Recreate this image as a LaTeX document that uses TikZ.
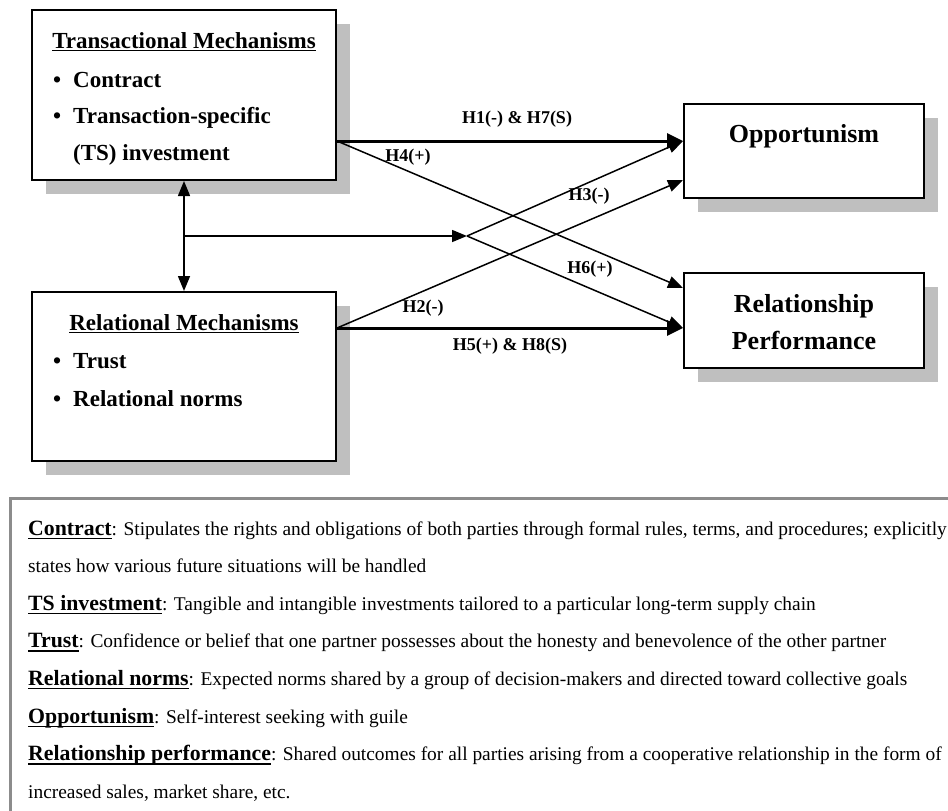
\documentclass[tikz,border=0pt]{standalone}
\usepackage{fontspec}
\setmainfont{Liberation Serif}
\usetikzlibrary{arrows.meta,shadows}

\newsavebox{\termbox}
\newcommand{\undl}[2][3pt]{\sbox{\termbox}{#2}\rlap{\rule[-#1]{\wd\termbox}{1.4pt}}\usebox{\termbox}}
\newcommand{\itembullet}{\makebox[20pt][l]{\textbullet}}
\newcommand{\defterm}[1]{\undl[4pt]{\fontsize{21.8}{20}\selectfont\bfseries #1}}

\tikzset{
  box/.style={draw, line width=2pt, fill=white, inner sep=0pt,
    drop shadow={shadow xshift=14pt, shadow yshift=-14pt, fill=black!25, opacity=1}},
  head/.style={font=\fontsize{23}{23}\selectfont\bfseries, anchor=base, inner sep=0pt},
  item/.style={font=\fontsize{23}{23}\selectfont\bfseries, anchor=base west, inner sep=0pt},
  outcome/.style={font=\fontsize{26}{26}\selectfont\bfseries, anchor=base, inner sep=0pt},
  hyp/.style={font=\fontsize{18}{18}\selectfont\bfseries, anchor=base, inner sep=0pt},
  defline/.style={font=\fontsize{19.4}{20}\selectfont, anchor=base west, inner sep=0pt},
  link/.style={line width=1.5pt, ->},
  main/.style={line width=3pt, -{Triangle[length=16pt,width=15pt]}},
}

\begin{document}
\begin{tikzpicture}[x=1pt, y=-1pt, >={Triangle[length=15pt,width=12pt]}]
  \useasboundingbox (0,0) rectangle (948,811);
  \clip (0,0) rectangle (948,811);

  % construct boxes
  \node[box, minimum width=304pt, minimum height=170pt] (T) at (184,95) {};
  \node[box, minimum width=304pt, minimum height=169pt] (R) at (184,376.5) {};
  \node[box, minimum width=240pt, minimum height=94pt] (O) at (804,151) {};
  \node[box, minimum width=240pt, minimum height=95pt] (P) at (804,320.5) {};

  \node[head] (Th) at (184,48) {\undl{Transactional Mechanisms}};
  \node[item] (Tc) at (53,87) {\itembullet Contract};
  \node[item] (Tts) at (53,123) {\itembullet Transaction-specific};
  \node[item] (Tinv) at (73,160) {(TS) investment};

  \node[head] (Rh) at (184,330) {\undl{Relational Mechanisms}};
  \node[item] (Rt) at (53,368) {\itembullet Trust};
  \node[item] (Rn) at (53,406) {\itembullet Relational norms};

  \node[outcome] (Oh) at (804,142) {Opportunism};
  \node[outcome] (Ph1) at (804,312) {Relationship};
  \node[outcome] (Ph2) at (804,349) {Performance};

  % connection points
  \coordinate (t) at ([yshift=-46pt]T.east);
  \coordinate (r) at ([yshift=48.5pt]R.east);
  \coordinate (o1) at ([yshift=10pt]O.west);
  \coordinate (o2) at ([yshift=-29pt]O.west);
  \coordinate (p1) at ([yshift=32.5pt]P.west);
  \coordinate (p2) at ([yshift=-7.5pt]P.west);
  \coordinate (x) at (467,236);
  \coordinate (m) at (T.south |- x);

  \draw[main] (t) -- (o1);
  \draw[main] (r) -- (p2);
  \draw[link] (t) -- (p1);
  \draw[link] (r) -- (o2);
  \draw[link] (m) -- (x);
  \draw[link] (x) -- (o1);
  \draw[link] (x) -- (p2);
  \draw[link, <->] (T.south) -- (R.north);

  \node[hyp] (h1) at (517,123) {H1(-) \& H7(S)};
  \node[hyp] (h4) at (408,161) {H4(+)};
  \node[hyp] (h3) at (589,200) {H3(-)};
  \node[hyp] (h6) at (590,273) {H6(+)};
  \node[hyp] (h2) at (423,312) {H2(-)};
  \node[hyp] (h5) at (510,350) {H5(+) \& H8(S)};

  % definitions
  \node[draw=black!45, line width=2.5pt, minimum width=980pt, minimum height=330pt,
    anchor=north west] (defs) at (9,497) {};
  \node[defline] (d1) at (28,535) {\defterm{Contract}: Stipulates the rights and obligations of both parties through formal rules, terms, and procedures; explicitly};
  \node[defline] (d2) at (28,572.6) {states how various future situations will be handled};
  \node[defline] (d3) at (28,610.2) {\defterm{TS investment}: Tangible and intangible investments tailored to a particular long-term supply chain};
  \node[defline] (d4) at (28,647.8) {\defterm{Trust}: Confidence or belief that one partner possesses about the honesty and benevolence of the other partner};
  \node[defline] (d5) at (28,685.4) {\defterm{Relational norms}: Expected norms shared by a group of decision-makers and directed toward collective goals};
  \node[defline] (d6) at (28,723) {\defterm{Opportunism}: Self-interest seeking with guile};
  \node[defline] (d7) at (28,760.6) {\defterm{Relationship performance}: Shared outcomes for all parties arising from a cooperative relationship in the form of};
  \node[defline] (d8) at (28,798.2) {increased sales, market share, etc.};
\end{tikzpicture}
\end{document}
